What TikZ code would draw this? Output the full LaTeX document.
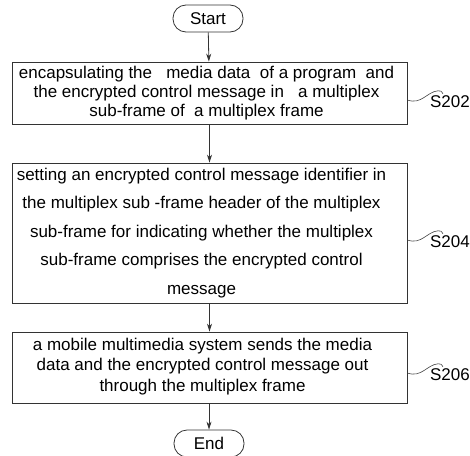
\documentclass[tikz,border=0pt]{standalone}
\usepackage{fontspec}
\setmainfont{Liberation Sans}
\usetikzlibrary{arrows.meta,calc}
\begin{document}
\begin{tikzpicture}[x=1pt,y=-1pt,
  box/.style={draw=black!80, line width=0.8pt, minimum width=395pt, inner sep=0pt},
  txt/.style={align=center, inner sep=0pt, font=\fontsize{17}{19}\selectfont},
  term/.style={draw=black!80, line width=0.8pt, rounded corners=13pt, minimum width=70pt, minimum height=27pt, inner sep=0pt, font=\fontsize{17}{19}\selectfont},
  flow/.style={draw=black!80, line width=0.8pt, -{Stealth[length=8pt,width=5pt]}},
  lbl/.style={inner sep=0pt, font=\fontsize{17}{19}\selectfont},
  wave/.style={draw=black!75, line width=0.6pt}]
\useasboundingbox (0,0) rectangle (470,455);
\node[term] (start) at (208,18.5) {Start};
\node[box, minimum height=62pt] (b1) at (209.5,93) {};
\node[txt] (b1t) at ($(b1.center)+(-3,0)$) {encapsulating the \ \ media data \ of a program \ and\\the encrypted control message in \ \ a multiplex\\sub-frame of \ a multiplex frame};
\node[box, minimum height=140pt] (b2) at (209.5,233) {};
\node[txt, font=\fontsize{17}{28.5}\selectfont] (b2t) at ($(b2.center)+(-8,0)$) {setting an encrypted control message identifier in\\the multiplex sub -frame header of the multiplex\\sub-frame for indicating whether the multiplex\\sub-frame comprises the encrypted control\\message};
\node[box, minimum height=71pt] (b3) at (209.5,367.5) {};
\node[txt, font=\fontsize{17}{20.5}\selectfont] (b3t) at ($(b3.center)+(-7,-1)$) {a mobile multimedia system sends the media\\data and the encrypted control message out\\through the multiplex frame};
\node[term] (end) at (209,443.5) {End};
\node[lbl] (s202) at (450,102) {S202};
\node[lbl] (s204) at (450,242) {S204};
\node[lbl] (s206) at (450,375) {S206};
\draw[flow] (start) -- (b1);
\draw[flow] (b1) -- (b2);
\draw[flow] (b2) -- (b3);
\draw[flow] (b3.south -| end) -- (end);
\foreach \b/\s in {b1/s202,b2/s204,b3/s206}{
  \coordinate (wa) at ($(\b.east |- \s.center)+(0,-2)$);
  \coordinate (wb) at ($(\s.north west)+(13,-2)$);
  \draw[wave] (wa) .. controls ($(wa)+(14,5)$) and ($(wb)+(-16,-2)$) .. ($(wb)+(-5,-3)$) .. controls ($(wb)+(-2,-3)$) .. (wb);
}
\end{tikzpicture}
\end{document}
